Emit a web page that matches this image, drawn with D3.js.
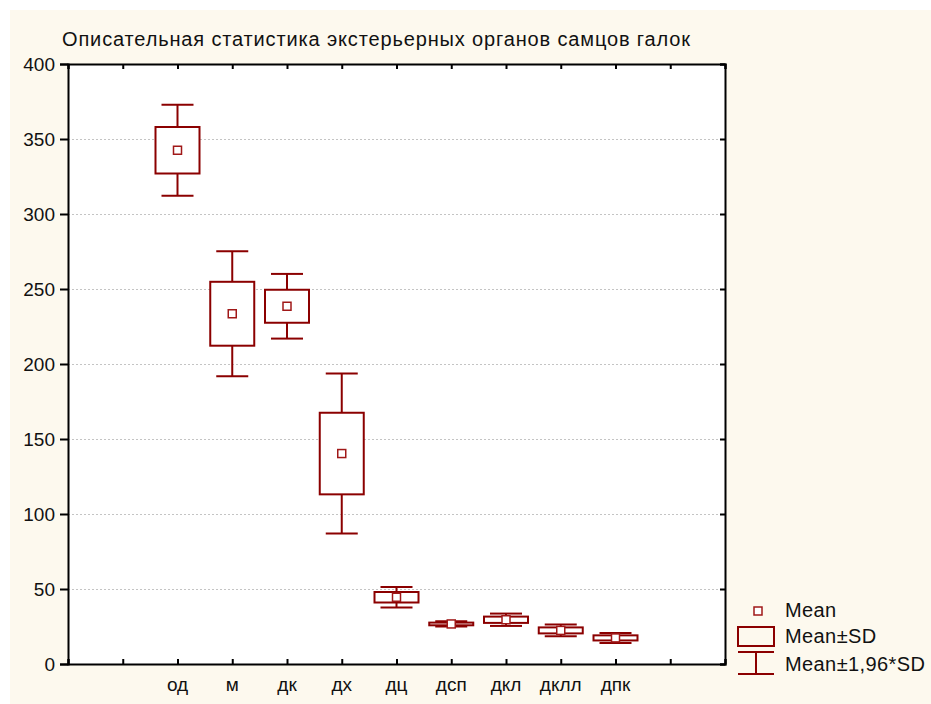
<!DOCTYPE html>
<meta charset="utf-8">
<style>
body { margin: 0; background: #fff; }
text { font-family: "Liberation Sans", Arial, sans-serif; fill: #111; }
.grid line { stroke: #c4c4c4; stroke-dasharray: 2,2; }
</style>
<svg width="931" height="704"></svg>
<script src="https://d3js.org/d3.v7.min.js"></script>
<script>

// descriptive stats
var categories = ["од", "м", "дк", "дх", "дц", "дсп", "дкл", "дклл", "дпк"];
var means = [342.5, 233.5, 238.5, 140.3, 44.5, 26.7, 29.5, 22.4, 17.4];
var sds = [15.5, 21.3, 11.0, 27.2, 3.5, 0.9, 2.1, 2.0, 1.7];
var yTicks = [0, 50, 100, 150, 200, 250, 300, 350, 400];
var legendLabels = ["Mean", "Mean±SD", "Mean±1,96*SD"];
var title = "Описательная статистика экстерьерных органов самцов галок";

var svg = d3.select("svg"),
    margin = {top: 64, right: 206, bottom: 40, left: 68},
    width = +svg.attr("width") - margin.left - margin.right,
    height = +svg.attr("height") - margin.top - margin.bottom;

var red = "#8b0000";

svg.append("rect")
    .attr("x", 10).attr("y", 10)
    .attr("width", 931).attr("height", 704)
    .attr("fill", "#fdf9ee");

// the original title is set a bit wide, stretch it to the same span
svg.append("text")
    .attr("x", 62).attr("y", 46)
    .attr("font-size", 20)
    .attr("textLength", 628)
    .attr("lengthAdjust", "spacing")
    .text(title);

var g = svg.append("g").attr("transform", "translate(" + margin.left + "," + margin.top + ")");

g.append("rect").attr("width", width).attr("height", height).attr("fill", "#fff");

// 12 slots, categories sit on slots 2..10
var x = d3.scaleLinear().domain([0, 12]).range([0, width]);
var y = d3.scaleLinear().domain([0, 400]).range([height, 0]);

g.append("g").attr("class", "grid")
  .selectAll("line")
  .data(yTicks.filter(function(d) { return d > 0 && d < 400; }))
  .enter().append("line")
    .attr("x1", 0).attr("x2", width)
    .attr("y1", function(d) { return y(d) + 0.5; })
    .attr("y2", function(d) { return y(d) + 0.5; });

var slots = d3.range(0, 13);

// axes
var yAxis = g.append("g")
    .call(d3.axisLeft(y).tickValues(yTicks).tickSize(8).tickPadding(5));
var xAxis = g.append("g").attr("transform", "translate(0," + height + ")")
    .call(d3.axisBottom(x).tickValues(slots).tickSize(-5).tickFormat(""));
var xTop = g.append("g")
    .call(d3.axisTop(x).tickValues(slots).tickSize(-5).tickFormat(""));
var yRight = g.append("g").attr("transform", "translate(" + width + ",0)")
    .call(d3.axisRight(y).tickValues(yTicks).tickSize(-5).tickFormat(""));

[yAxis, xAxis, xTop, yRight].forEach(function(a) {
  a.select(".domain").attr("stroke", "#000").attr("stroke-width", 2);
  a.selectAll(".tick line").attr("stroke", "#000").attr("stroke-width", 2);
});
yAxis.selectAll("text").attr("font-size", 19).attr("fill", "#111")
    .attr("font-family", "Liberation Sans, Arial, sans-serif");

g.append("g").selectAll("text")
  .data(categories)
  .enter().append("text")
    .attr("x", function(d, i) { return x(i + 2); })
    .attr("y", height + 27)
    .attr("text-anchor", "middle")
    .attr("font-size", 19)
    .text(function(d) { return d; });

// boxes
var boxW = 44, capW = 32, markS = 8;
var items = g.append("g").selectAll("g")
  .data(categories)
  .enter().append("g")
    .attr("transform", function(d, i) { return "translate(" + x(i + 2) + ",0)"; });

items.append("line")
    .attr("x1", 0).attr("x2", 0)
    .attr("y1", function(d, i) { return y(means[i] + 1.96 * sds[i]); })
    .attr("y2", function(d, i) { return y(means[i] - 1.96 * sds[i]); })
    .attr("stroke", red).attr("stroke-width", 2);

items.append("line")
    .attr("x1", -capW / 2).attr("x2", capW / 2)
    .attr("y1", function(d, i) { return y(means[i] + 1.96 * sds[i]); })
    .attr("y2", function(d, i) { return y(means[i] + 1.96 * sds[i]); })
    .attr("stroke", red).attr("stroke-width", 2);

items.append("line")
    .attr("x1", -capW / 2).attr("x2", capW / 2)
    .attr("y1", function(d, i) { return y(means[i] - 1.96 * sds[i]); })
    .attr("y2", function(d, i) { return y(means[i] - 1.96 * sds[i]); })
    .attr("stroke", red).attr("stroke-width", 2);

items.append("rect")
    .attr("x", -boxW / 2).attr("width", boxW)
    .attr("y", function(d, i) { return y(means[i] + sds[i]); })
    .attr("height", function(d, i) { return y(means[i] - sds[i]) - y(means[i] + sds[i]); })
    .attr("fill", "#fff").attr("stroke", red).attr("stroke-width", 2);

items.append("rect")
    .attr("x", -markS / 2).attr("width", markS)
    .attr("y", function(d, i) { return y(means[i]) - markS / 2; })
    .attr("height", markS)
    .attr("fill", "#fff").attr("stroke", "#a01818").attr("stroke-width", 1.5);

// legend
var lg = svg.append("g");
lg.append("rect")
    .attr("x", 754).attr("y", 607).attr("width", markS).attr("height", markS)
    .attr("fill", "#fff").attr("stroke", "#a01818").attr("stroke-width", 1.5);
lg.append("rect")
    .attr("x", 738).attr("y", 627).attr("width", 36).attr("height", 19)
    .attr("fill", "none").attr("stroke", red).attr("stroke-width", 2);
lg.append("line").attr("x1", 738).attr("x2", 774).attr("y1", 652).attr("y2", 652)
    .attr("stroke", red).attr("stroke-width", 2);
lg.append("line").attr("x1", 738).attr("x2", 774).attr("y1", 674).attr("y2", 674)
    .attr("stroke", red).attr("stroke-width", 2);
lg.append("line").attr("x1", 756).attr("x2", 756).attr("y1", 652).attr("y2", 674)
    .attr("stroke", red).attr("stroke-width", 2);

lg.selectAll("text.lab")
  .data(legendLabels)
  .enter().append("text")
    .attr("class", "lab")
    .attr("x", 785)
    .attr("y", function(d, i) { return [617, 643, 671][i]; })
    .attr("font-size", 20)
    .attr("letter-spacing", 0.4)
    .text(function(d) { return d; });

</script>
